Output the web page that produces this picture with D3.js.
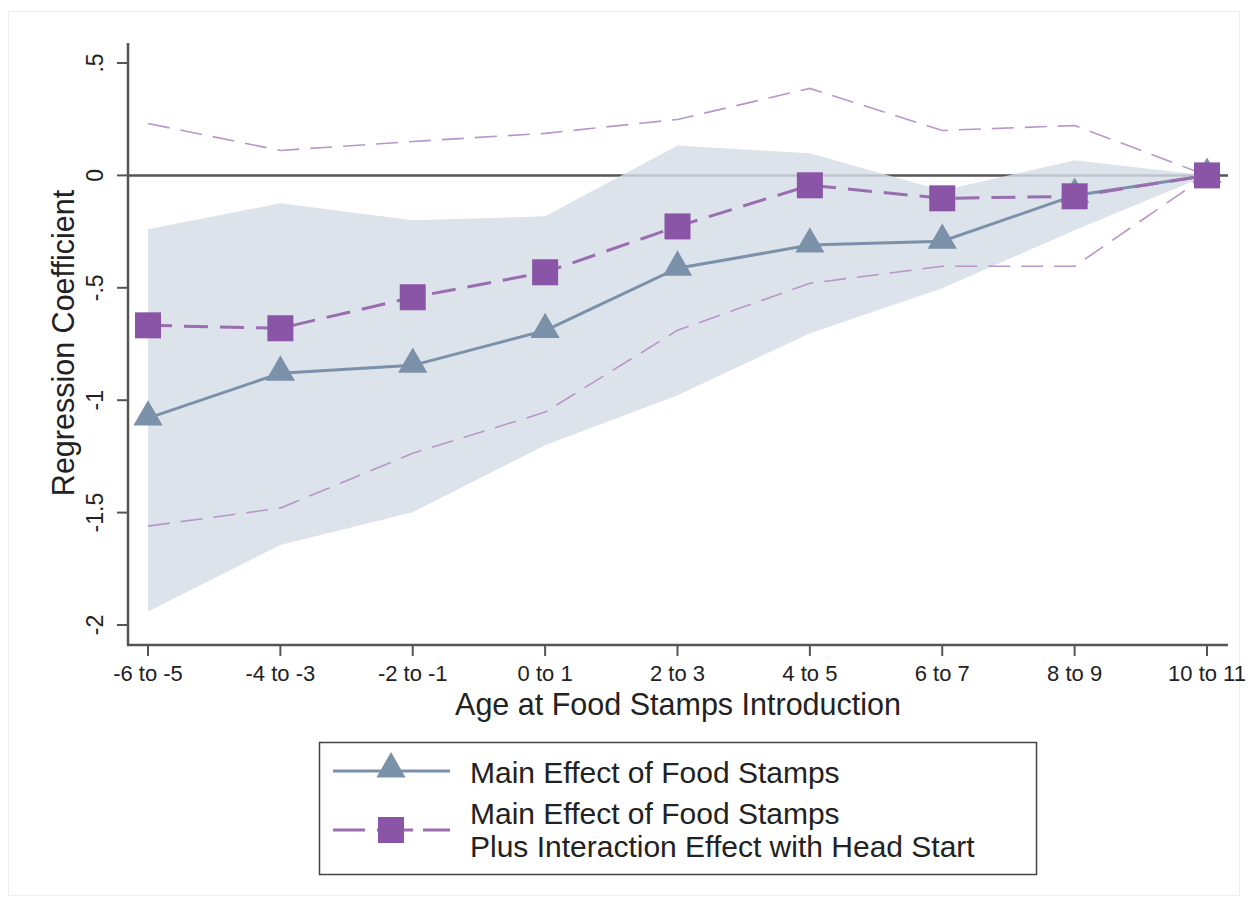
<!DOCTYPE html>
<html>
<head>
<meta charset="utf-8">
<script src="https://cdnjs.cloudflare.com/ajax/libs/d3/7.8.5/d3.min.js"></script>
<style>
  html, body { margin: 0; padding: 0; background: #fff; }
  svg { display: block; font-family: "Liberation Sans", Arial, sans-serif; }
</style>
</head>
<body>
<svg id="chart" width="1248" height="907"></svg>
<script>
// Age groups at Food Stamps introduction
const categories = ["-6 to -5", "-4 to -3", "-2 to -1", "0 to 1", "2 to 3", "4 to 5", "6 to 7", "8 to 9", "10 to 11"];

// Main effect of Food Stamps and its confidence band
const mainEffect = [-1.08, -0.88, -0.845, -0.69, -0.413, -0.31, -0.293, -0.089, 0];
const mainUpper  = [-0.24, -0.124, -0.20, -0.182, 0.133, 0.098, -0.067, 0.067, 0];
const mainLower  = [-1.94, -1.644, -1.498, -1.20, -0.978, -0.702, -0.502, -0.244, 0];

// Main effect plus interaction with Head Start and its confidence bounds
const interEffect = [-0.667, -0.68, -0.542, -0.431, -0.227, -0.044, -0.102, -0.093, 0];
const interUpper  = [0.231, 0.111, 0.151, 0.187, 0.249, 0.387, 0.20, 0.222, 0];
const interLower  = [-1.56, -1.48, -1.236, -1.053, -0.689, -0.48, -0.404, -0.404, 0];

const yTicks = [-2, -1.5, -1, -0.5, 0, 0.5];
const yTickLabels = ["-2", "-1.5", "-1", "-.5", "0", ".5"];

const legendLabels = [["Main Effect of Food Stamps"], ["Main Effect of Food Stamps", "Plus Interaction Effect with Head Start"]];

const svg = d3.select("#chart");

const plot = { left: 128, right: 1228, top: 43, bottom: 645 };

const x = d3.scalePoint()
  .domain(categories)
  .range([148, 1207]);

const y = d3.scaleLinear()
  .domain([-2, 0.5])
  .range([625, 63]);

const COL_MAIN = "#7a91a9";
const COL_INTER = "#8a55a6";
const COL_INTER_LINE = "#9a6cb0";
const COL_CI = "#b896c8";

// thin outer frame
svg.append("rect")
  .attr("x", 8.5).attr("y", 11.5)
  .attr("width", 1231).attr("height", 884)
  .attr("fill", "none")
  .attr("stroke", "#efefef")
  .attr("stroke-width", 1);

// reference line at zero
svg.append("line")
  .attr("x1", plot.left).attr("x2", plot.right)
  .attr("y1", y(0)).attr("y2", y(0))
  .attr("stroke", "#555")
  .attr("stroke-width", 2.5);

// confidence band for the main effect
const area = d3.area()
  .x((d, i) => x(categories[i]))
  .y0((d, i) => y(mainLower[i]))
  .y1((d, i) => y(mainUpper[i]));

svg.append("path")
  .datum(mainEffect)
  .attr("d", area)
  .attr("fill", "#d6dde6")
  .attr("fill-opacity", 0.82);

// confidence bounds for the interaction series
const line = d3.line().x((d, i) => x(categories[i])).y(d => y(d));

[interUpper, interLower].forEach(arr => {
  svg.append("path")
    .datum(arr)
    .attr("d", line)
    .attr("fill", "none")
    .attr("stroke", COL_CI)
    .attr("stroke-width", 1.6)
    .attr("stroke-dasharray", "22,11");
});

// main effect line
svg.append("path")
  .datum(mainEffect)
  .attr("d", line)
  .attr("fill", "none")
  .attr("stroke", COL_MAIN)
  .attr("stroke-width", 3);

// interaction effect line
svg.append("path")
  .datum(interEffect)
  .attr("d", line)
  .attr("fill", "none")
  .attr("stroke", COL_INTER_LINE)
  .attr("stroke-width", 3)
  .attr("stroke-dasharray", "24,12");

const triangle = d3.symbol().type(d3.symbolTriangle).size(370);

svg.append("g").selectAll("path")
  .data(mainEffect)
  .join("path")
  .attr("d", triangle)
  .attr("transform", (d, i) => `translate(${x(categories[i])},${y(d) - 1})`)
  .attr("fill", COL_MAIN);

const SQ = 26;
svg.append("g").selectAll("rect")
  .data(interEffect)
  .join("rect")
  .attr("x", (d, i) => x(categories[i]) - SQ / 2)
  .attr("y", d => y(d) - SQ / 2)
  .attr("width", SQ).attr("height", SQ)
  .attr("fill", COL_INTER);

// axes
const axisCol = "#555";
svg.append("line")
  .attr("x1", plot.left).attr("x2", plot.left)
  .attr("y1", plot.top).attr("y2", plot.bottom + 1)
  .attr("stroke", axisCol).attr("stroke-width", 2.5);
svg.append("line")
  .attr("x1", plot.left - 1).attr("x2", plot.right)
  .attr("y1", plot.bottom).attr("y2", plot.bottom)
  .attr("stroke", axisCol).attr("stroke-width", 2.5);

const yAxis = svg.append("g");
yTicks.forEach((t, i) => {
  yAxis.append("line")
    .attr("x1", plot.left - 11).attr("x2", plot.left)
    .attr("y1", y(t)).attr("y2", y(t))
    .attr("stroke", axisCol).attr("stroke-width", 2);
  yAxis.append("text")
    .attr("transform", `translate(${plot.left - 25},${y(t)}) rotate(-90)`)
    .attr("text-anchor", "middle")
    .attr("font-size", 23)
    .attr("fill", "#222")
    .text(yTickLabels[i]);
});

const xAxis = svg.append("g");
categories.forEach(c => {
  xAxis.append("line")
    .attr("x1", x(c)).attr("x2", x(c))
    .attr("y1", plot.bottom).attr("y2", plot.bottom + 11)
    .attr("stroke", axisCol).attr("stroke-width", 2);
  xAxis.append("text")
    .attr("x", x(c)).attr("y", plot.bottom + 36)
    .attr("text-anchor", "middle")
    .attr("font-size", 22)
    .attr("fill", "#222")
    .text(c);
});

svg.append("text")
  .attr("x", 678).attr("y", 715)
  .attr("text-anchor", "middle")
  .attr("font-size", 30.5)
  .attr("fill", "#222")
  .text("Age at Food Stamps Introduction");

svg.append("text")
  .attr("transform", `translate(74,343) rotate(-90)`)
  .attr("text-anchor", "middle")
  .attr("font-size", 30.5)
  .attr("fill", "#222")
  .text("Regression Coefficient");

// legend
const lg = svg.append("g");
lg.append("rect")
  .attr("x", 319.5).attr("y", 742.5)
  .attr("width", 717).attr("height", 132)
  .attr("fill", "#fff")
  .attr("stroke", "#444").attr("stroke-width", 1.5);

lg.append("line")
  .attr("x1", 333).attr("x2", 450).attr("y1", 771).attr("y2", 771)
  .attr("stroke", COL_MAIN).attr("stroke-width", 3);
lg.append("path")
  .attr("d", triangle)
  .attr("transform", "translate(391,769)")
  .attr("fill", COL_MAIN);

lg.append("line")
  .attr("x1", 333).attr("x2", 450).attr("y1", 830).attr("y2", 830)
  .attr("stroke", COL_INTER_LINE).attr("stroke-width", 3)
  .attr("stroke-dasharray", "32,12,36,10,27");
lg.append("rect")
  .attr("x", 391 - SQ / 2).attr("y", 830 - SQ / 2)
  .attr("width", SQ).attr("height", SQ)
  .attr("fill", COL_INTER);

lg.append("text")
  .attr("x", 470).attr("y", 783)
  .attr("font-size", 30)
  .attr("fill", "#222")
  .text(legendLabels[0][0]);
legendLabels[1].forEach((s, i) => {
  lg.append("text")
    .attr("x", 470).attr("y", 824 + i * 33)
    .attr("font-size", 30)
    .attr("fill", "#222")
    .text(s);
});
</script>
</body>
</html>
